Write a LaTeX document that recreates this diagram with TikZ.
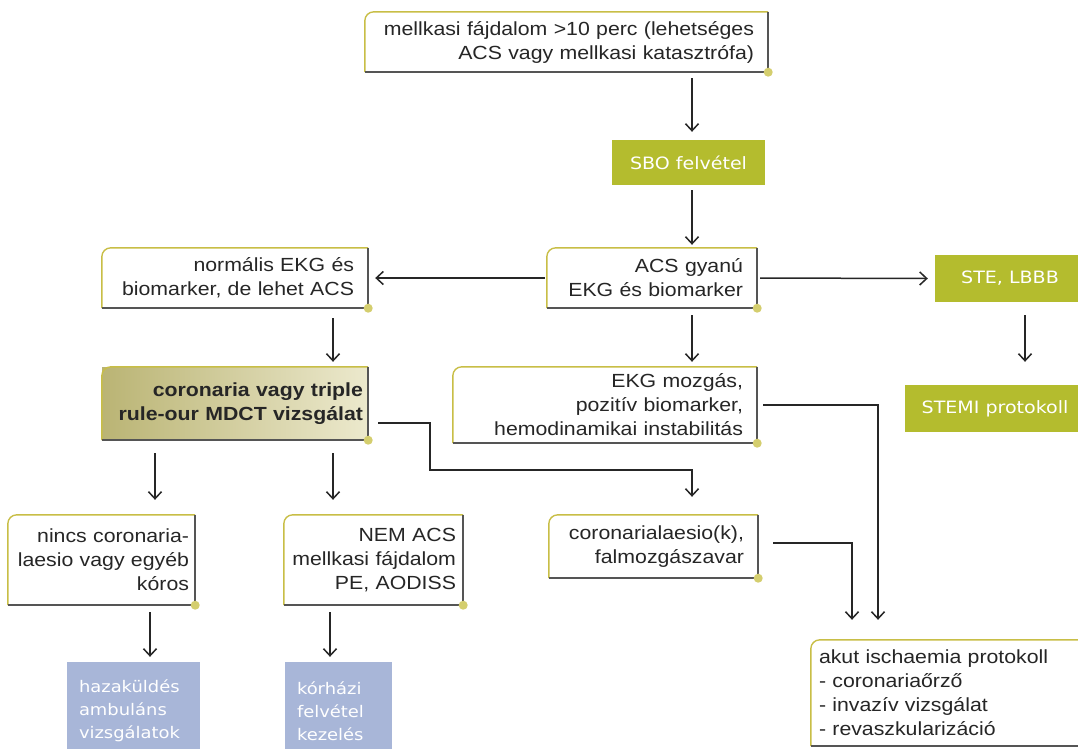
\documentclass[tikz,border=0pt]{standalone}
\usepackage{fontspec}
\setmainfont{Liberation Sans}[FakeStretch=1.12]
\newfontfamily\grfont{DejaVu Sans}[FakeStretch=1.12]
\usetikzlibrary{arrows.meta,calc}
\definecolor{olv}{RGB}{200,190,70}
\definecolor{dotc}{RGB}{212,206,110}
\definecolor{grl}{RGB}{85,85,85}
\definecolor{grn}{RGB}{180,188,46}
\definecolor{blu}{RGB}{168,182,216}
\definecolor{khL}{RGB}{186,180,116}
\definecolor{khR}{RGB}{236,233,205}
\tikzset{
  wbox/.style={rectangle, fill=white, inner xsep=14pt, inner ysep=0pt, align=right,
    font=\fontsize{19}{24}\selectfont, text=black!85},
  gbox/.style={rectangle, fill=grn, inner sep=0pt, text=white,
    font=\grfont\fontsize{17}{20}\selectfont},
  bbox/.style={rectangle, fill=blu, inner xsep=12pt, inner ysep=0pt, text=white, align=left,
    font=\grfont\fontsize{16}{23}\selectfont},
  olvline/.style={draw=olv, line width=1.4pt, rounded corners=9pt},
  grline/.style={draw=grl, line width=2pt},
  arr/.style={draw=black!85, line width=1.5pt,
    -{Straight Barb[length=7pt,width=13pt,line width=1.5pt]}},
  con/.style={draw=black!85, line width=1.5pt}
}
\newcommand\frm[1]{%
  \draw[olvline] (#1.south west) -- (#1.north west) -- (#1.north east);
  \draw[grline] (#1.north east) -- (#1.south east) -- (#1.south west);
  \fill[dotc] (#1.south east) circle (4.5pt);}
\begin{document}
\begin{tikzpicture}[x=1pt,y=-1pt]
\useasboundingbox (0,0) rectangle (1078,748);
\fill[white] (0,0) rectangle (1078,748);

% white boxes
\node[wbox, text width=375pt, minimum height=60pt] (top) at (566.5,42)
  {mellkasi fájdalom >10 perc (lehetséges\\ACS vagy mellkasi katasztrófa)};
\node[wbox, text width=182pt, minimum height=60pt] (acs) at (652,278)
  {ACS gyanú\\EKG és biomarker};
\node[wbox, text width=238pt, minimum height=60pt] (norm) at (235,278)
  {normális EKG és\\biomarker, de lehet ACS};
\node[wbox, text width=276pt, minimum height=76pt] (ekg) at (605,405)
  {EKG mozgás,\\pozitív biomarker,\\hemodinamikai instabilitás};
\node[wbox, inner xsep=5pt, text width=256pt, minimum height=73pt, left color=khL, right color=khR,
  font=\bfseries\fontsize{19}{24}\selectfont] (cor) at (235,403.5)
  {coronaria vagy triple\\rule-our MDCT vizsgálat};
\node[wbox, inner xsep=6pt, text width=175pt, minimum height=90pt] (nincs) at (101.5,560)
  {nincs coronaria-\\laesio vagy egyéb\\kóros};
\node[wbox, inner xsep=7pt, text width=165pt, minimum height=90pt] (nem) at (373.5,560)
  {NEM ACS\\mellkasi fájdalom\\PE, AODISS};
\node[wbox, text width=181pt, minimum height=63pt] (les) at (653.5,546.5)
  {coronarialaesio(k),\\falmozgászavar};
\node[wbox, text width=259pt, minimum height=106pt, align=left, inner xsep=8pt] (akut) at (948.5,693)
  {akut ischaemia protokoll\\- coronariaőrző\\- invazív vizsgálat\\- revaszkularizáció};
\foreach \n in {top,acs,norm,ekg,cor,nincs,nem,les,akut} {\frm{\n}}

% green boxes
\node[gbox, minimum width=153pt, minimum height=45pt] (sbo) at (688.5,162.5) {SBO felvétel};
\node[gbox, minimum width=150pt, minimum height=47pt] (ste) at (1010,278.5) {STE, LBBB};
\node[gbox, minimum width=180pt, minimum height=47pt] (stemi) at (995,408.5) {STEMI protokoll};

% blue boxes
\node[bbox, text width=109pt, minimum height=98pt] (haza) at (133.5,711)
  {hazaküldés\\ambuláns\\vizsgálatok};
\node[bbox, text width=83pt, minimum height=98pt] (korh) at (338.5,711)
  {kórházi\\felvétel\\kezelés};

% connectors
\coordinate (xm) at (692,0);
\coordinate (xs) at (1025,0);
\coordinate (xn) at (333,0);
\coordinate (xl) at (155,0);
\draw[arr] ([yshift=-6pt]top.south -| xm) -- ([yshift=8pt]sbo.north -| xm);
\draw[arr] ([yshift=-5pt]sbo.south -| xm) -- ([yshift=3pt]acs.north -| xm);
\draw[arr] ([yshift=-7pt]acs.south -| xm) -- ([yshift=5pt]ekg.north -| xm);
\draw[arr] ([xshift=-2pt]acs.west) -- ([xshift=7pt]norm.east);
\draw[arr] ([xshift=3pt]acs.east) -- ([xshift=-7pt]ste.west);
\draw[arr] ([yshift=-13pt]ste.south -| xs) -- ([yshift=23pt]stemi.north -| xs);
\draw[arr] ([yshift=-10pt]norm.south -| xn) -- ([yshift=5pt]cor.north -| xn);
\draw[arr] ([yshift=-13pt]cor.south -| xl) -- ([yshift=15pt]nincs.north -| xl);
\draw[arr] ([yshift=-13pt]cor.south -| xn) -- ([yshift=15pt]nem.north -| xn);
\coordinate (c1) at (430,423);
\coordinate (c2) at (430,470);
\draw[arr] ([xshift=10pt]cor.east |- c1) -- (c1) -- (c2) -- (c2 -| xm) -- ([yshift=18pt]les.north -| xm);
\coordinate (e1) at (878,405);
\draw[arr] ([xshift=6pt]ekg.east |- e1) -- (e1) -- ([yshift=20pt]akut.north -| e1);
\coordinate (l1) at (852,543);
\draw[arr] ([xshift=15pt]les.east |- l1) -- (l1) -- ([yshift=20pt]akut.north -| l1);
\coordinate (xb1) at (150,0);
\coordinate (xb2) at (330,0);
\draw[arr] ([yshift=-7pt]nincs.south -| xb1) -- ([yshift=5pt]haza.north -| xb1);
\draw[arr] ([yshift=-7pt]nem.south -| xb2) -- ([yshift=5pt]korh.north -| xb2);
\end{tikzpicture}
\end{document}
